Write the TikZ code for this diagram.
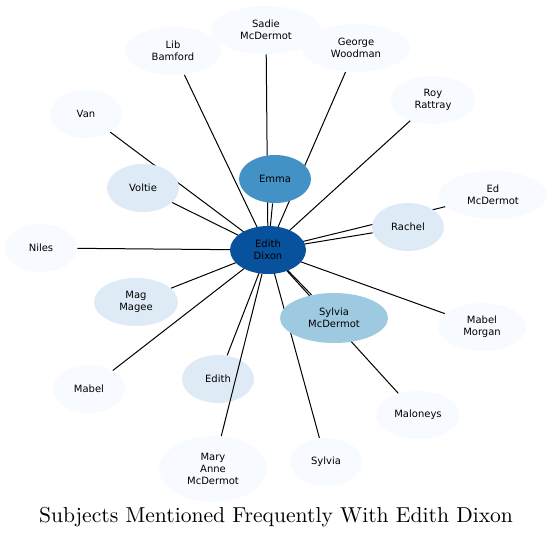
\documentclass[tikz,border=0pt]{standalone}
\usepackage{fontspec}
\newfontfamily\graphfont{DejaVu Sans}
\usepackage{xcolor}
\usetikzlibrary{shapes.geometric,backgrounds}
\definecolor{HubBlue}{RGB}{8,81,156}
\definecolor{HiBlue}{RGB}{66,146,198}
\definecolor{MidBlue}{RGB}{158,202,225}
\definecolor{LoBlue}{RGB}{222,235,247}
\definecolor{MinBlue}{RGB}{247,251,255}
\tikzset{
  subj/.style={ellipse,draw=none,inner sep=0pt,minimum width=36pt,minimum height=24pt,
               align=center,font=\graphfont\fontsize{5}{6}\selectfont},
  hub/.style={subj,fill=HubBlue,minimum width=38pt},
  freqhi/.style={subj,fill=HiBlue},
  freqmid/.style={subj,fill=MidBlue},
  freqlo/.style={subj,fill=LoBlue},
  freqmin/.style={subj,fill=MinBlue},
  link/.style={line width=0.5pt,black},
}

\begin{document}
\begin{tikzpicture}[x=0.5pt,y=-0.5pt]
  \useasboundingbox (0,0) rectangle (553,538);
  % hub and its subjects
  \node[hub] (dixon) at (268,250) {Edith\\Dixon};
  \node[freqhi] (emma) at (275,179) {Emma};
  \node[freqmid,minimum width=54pt,minimum height=25pt] (sylmcd) at (334,318) {Sylvia\\McDermot};
  \node[freqlo] (voltie) at (143,188) {Voltie};
  \node[freqlo] (rachel) at (408,227) {Rachel};
  \node[freqlo,minimum width=42pt] (magee) at (136,302) {Mag\\Magee};
  \node[freqlo] (edith) at (218,379) {Edith};
  \node[freqmin,minimum width=55pt] (sadie) at (266,30) {Sadie\\McDermot};
  \node[freqmin,minimum width=48pt] (lib) at (173,51) {Lib\\Bamford};
  \node[freqmin,minimum width=54pt] (george) at (356,48) {George\\Woodman};
  \node[freqmin,minimum width=42pt] (roy) at (433,100) {Roy\\Rattray};
  \node[freqmin] (van) at (86,114) {Van};
  \node[freqmin,minimum width=54pt] (edmcd) at (493,195) {Ed\\McDermot};
  \node[freqmin] (niles) at (41,248) {Niles};
  \node[freqmin,minimum width=44pt] (morgan) at (482,327) {Mabel\\Morgan};
  \node[freqmin] (mabel) at (89,389) {Mabel};
  \node[freqmin,minimum width=42pt] (maloneys) at (418,415) {Maloneys};
  \node[freqmin,minimum width=54pt,minimum height=33pt] (maryanne) at (213,469) {Mary\\Anne\\McDermot};
  \node[freqmin] (sylvia) at (326,462) {Sylvia};
  % edges go under the nodes
  \begin{scope}[on background layer]
    \foreach \other in {emma,sylmcd,voltie,rachel,magee,edith,sadie,lib,george,
                        roy,van,edmcd,niles,morgan,mabel,maloneys,sylvia}
      \draw[link] (dixon.center) -- (\other);
  \end{scope}
  % this one runs over the Edith node
  \draw[link] (dixon) -- (maryanne);
  \node[font=\fontsize{10.8}{13}\selectfont] (title) at (276,517) {Subjects Mentioned Frequently With Edith Dixon};
\end{tikzpicture}
\end{document}
